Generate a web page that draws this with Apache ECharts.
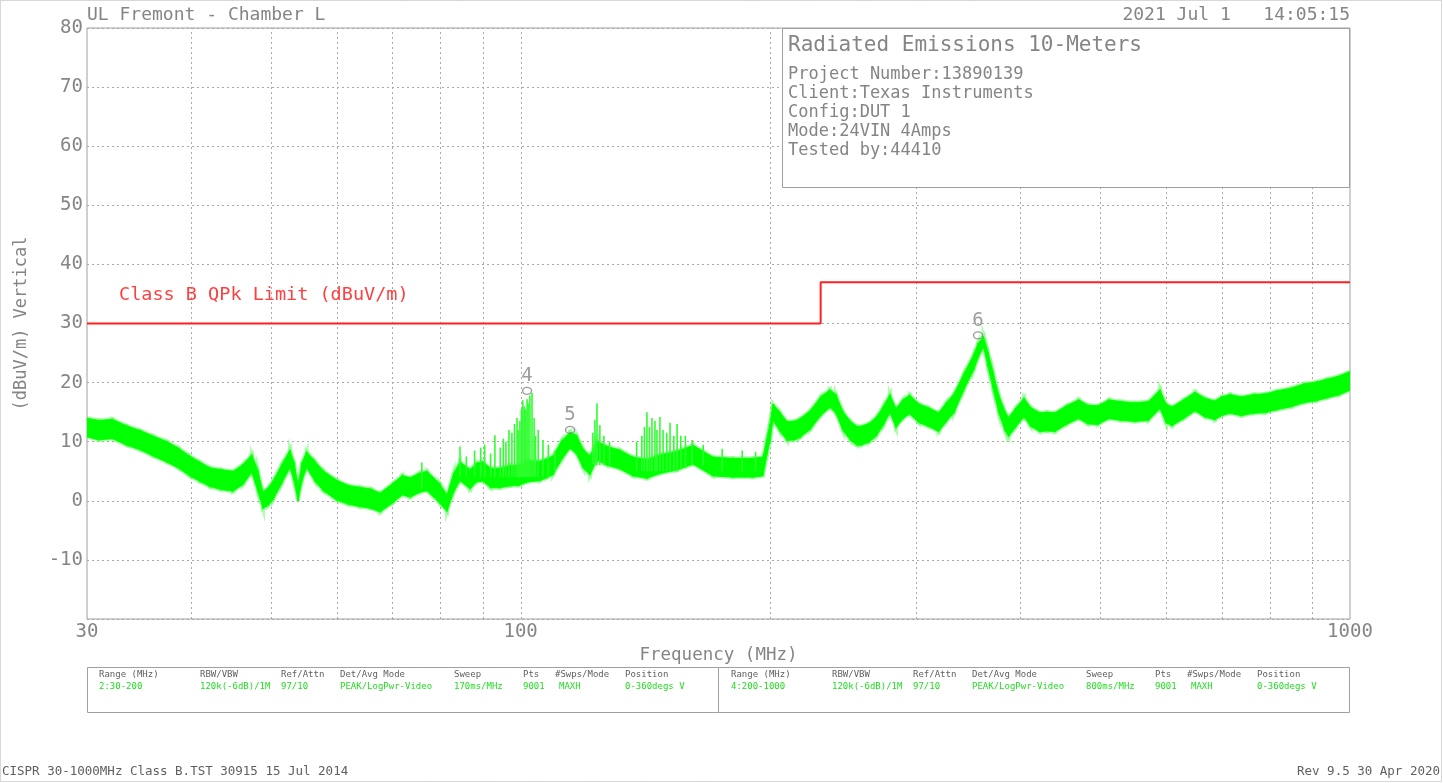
<!DOCTYPE html>
<html><head><meta charset="utf-8">
<script src="https://cdn.jsdelivr.net/npm/echarts@6/dist/echarts.min.js"></script>
<style>html,body{margin:0;padding:0;background:#fff}#c{width:1443px;height:783px}</style>
</head><body><div id="c"></div>
<script>
// ---- trace envelope (MHz, dBuV/m) ----
const freq = [
 30,31,32.2,33.5,34.8,36,37.5,38.7,39.9,41,
 42.2,43.5,45,46.3,47.4,48.2,48.9,49.6,50.3,51.5,
 52.7,53.3,53.9,54.5,55.2,56.5,57.8,60,62,64,
 66,67.7,70.2,72,73.6,75.5,77.1,79.9,81.5,83,
 84.5,86.9,88.5,90.1,92,94.4,97,99.5,102,105.5,
 107.5,109.4,112,114.7,116.8,118.9,121.2,123.6,127.1,131.7,
 136.6,142,147.2,154.4,161.4,170.6,180.3,190.6,195.9,198,
 199.8,201.5,205.4,209.5,214.1,217.2,223.6,230,236,240,
 244.7,250,254.4,257.2,263,268.6,274,278.8,283.5,289,
 294.4,302.2,310,319.2,326,333.1,342,351.9,356,361.5,
 366,371.2,377,383.7,387.6,395,404.5,412,422.8,431,
 440.8,455,470.9,483,496.7,512,529.4,550,571.5,590.1,
 600,610.2,630,650.5,668,687,700,716.8,740,765.3,
 790,816.4,850,880.2,910,938.1,970,1000];
const traceLow = [
 10.8,10.3,10.5,9.4,8.6,7.6,6.5,5.5,4.2,3.3,
 2.4,1.9,1.6,2.8,4.8,1.6,-1.3,-0.8,0.2,2.9,
 5.6,3.4,0.0,3.4,5.6,3.3,1.7,0.1,-0.6,-1.0,
 -1.3,-1.9,-0.3,1.0,0.6,1.4,1.7,-0.4,-1.8,1.4,
 3.4,2.0,3.2,3.3,2.2,2.2,2.5,2.6,3.2,3.4,
 3.9,4.4,6.9,8.9,7.9,5.6,4.4,6.9,6.0,5.4,
 4.2,3.8,4.6,5.2,6.2,4.2,4.0,4.0,4.2,7.6,
 10.0,13.6,11.8,10.2,10.3,10.7,12.1,14.4,15.8,14.8,
 11.9,10.2,9.4,9.4,9.9,11.0,12.9,14.9,12.4,13.9,
 14.7,13.2,12.6,11.7,13.4,14.9,18.6,22.2,24.2,26.0,
 22.7,19.0,15.0,11.9,10.9,12.4,14.2,12.6,11.7,11.8,
 11.7,12.9,13.9,13.0,12.9,13.9,13.6,13.4,13.6,15.6,
 13.2,12.7,13.9,15.2,14.2,13.7,14.4,14.8,14.4,14.8,
 14.9,15.4,15.9,16.6,16.9,17.4,17.9,18.7];
const traceHigh = [
 14.0,13.6,13.8,12.7,11.9,11.0,10.0,8.9,7.6,6.6,
 5.6,5.3,5.0,6.2,7.8,5.2,1.5,2.2,3.4,6.1,
 8.6,6.6,2.6,6.5,8.3,6.7,5.1,3.5,2.6,2.3,
 2.0,1.3,3.0,4.3,3.9,4.7,5.0,2.9,1.0,4.6,
 6.6,5.3,6.4,6.6,5.5,5.5,6.0,6.0,6.8,6.7,
 7.1,7.6,10.1,11.6,11.1,8.8,7.6,10.1,9.2,8.6,
 7.4,7.0,7.8,8.4,9.4,7.4,7.2,7.2,7.4,10.4,
 13.0,16.4,15.0,13.4,13.5,13.9,15.3,17.6,18.8,18.0,
 15.1,13.4,12.6,12.6,13.1,14.2,16.1,18.0,15.6,17.1,
 17.9,16.4,15.8,14.9,16.6,18.1,21.4,24.8,26.6,27.8,
 25.2,21.8,18.0,15.1,14.1,15.6,17.4,15.8,14.9,15.0,
 14.9,16.1,17.1,16.2,16.1,17.1,16.8,16.6,16.8,18.8,
 16.4,15.9,17.1,18.4,17.4,16.9,17.6,18.0,17.6,18.0,
 18.1,18.6,19.1,19.8,20.1,20.6,21.1,21.9];
// ---- narrow spikes ----
const spikeFreq = [76,84.5,86,88,89.5,90.5,92,93.1,94.5,95.3,96,96.8,97.6,98.3,99.0,99.3,99.8,100.2,100.6,101.0,101.4,101.8,102.1,102.6,103.2,103.8,104.2,105,106.4,108,110,
 122.2,122.9,123.6,124.6,126,128,138,140,141,142,143,144,145.2,146,147.2,148.5,150,151.4,153,154.4,156,158,161,166,175,185,192];
const spikeTop  = [6.5,9.2,7.5,8.5,9,9.5,8,11.1,9,10.5,10,12,11.5,13,14.0,12,13.5,15.5,17.0,16,15.5,17.2,16.5,17.8,18.3,14,11.0,12,10.3,9.5,8.5,
 11.5,13.7,16.5,12.8,11,10,10,11,12.5,15.0,12.5,14.0,13.5,12,14.2,12.0,11.5,13.2,11,13.0,11,11,10.3,9.5,8.8,8.5,8.3];
const spikeBase = [2,4,4,4,4,4,4,4,4,4,4,4,4,4,4,4,4,4,4,4,4,4,4,4,4,4,4,4,4,4,5,
 6,6,6,6,6,6,5,5,5,5,5,5,5,5,5,5,5,5,5,5,5.5,5.5,6,6,5,5,5];
// ---- limit ----
const limitFreq = [30,230,230,1000];
const limitVal  = [30,30,37,37];
const limitName = 'Class B QPk Limit (dBuV/m)';
// ---- markers ----
const markerFreq  = [101.8,114.7,356];
const markerVal   = [18.6,12.0,28.0];
const markerLabel = ['4','5','6'];
// ---- axes ----
const gridFreq = [40,50,60,70,80,90,100,200,300,400,500,600,700,800,900];
const xTickLabels = [30,100,1000];
const yMin = -20, yMax = 80, yStep = 10;
// ---- texts ----
const headerLeft = 'UL Fremont - Chamber L';
const headerRight = '2021 Jul 1   14:05:15';
const infoTitle = 'Radiated Emissions 10-Meters';
const infoLines = ['Project Number:13890139','Client:Texas Instruments','Config:DUT 1','Mode:24VIN 4Amps','Tested by:44410'];
const tableHeaders = ['Range (MHz)','RBW/VBW','Ref/Attn','Det/Avg Mode','Sweep','Pts','#Swps/Mode','Position'];
const tableLeft  = ['2:30-200','120k(-6dB)/1M','97/10','PEAK/LogPwr-Video','170ms/MHz','9001','MAXH','0-360degs V'];
const tableRight = ['4:200-1000','120k(-6dB)/1M','97/10','PEAK/LogPwr-Video','800ms/MHz','9001','MAXH','0-360degs V'];
const footerLeft = 'CISPR 30-1000MHz Class B.TST 30915 15 Jul 2014';
const footerRight = 'Rev 9.5 30 Apr 2020';

const MONO = "'DejaVu Sans Mono', 'Liberation Mono', monospace";
const GRAY = '#858585';
const GREEN = '#00ff00';

const chart = echarts.init(document.getElementById('c'), null, {renderer:'canvas'});

const bandData = [];
for (let i = 0; i < freq.length - 1; i++) {
  bandData.push([freq[i], traceLow[i], traceHigh[i], freq[i+1], traceLow[i+1], traceHigh[i+1]]);
}
const spikeData = spikeFreq.map((f, i) => [f, spikeBase[i], spikeTop[i]]);
const limitData = limitFreq.map((f, i) => [f, limitVal[i]]);
const markerData = markerFreq.map((f, i) => [f, markerVal[i], markerLabel[i]]);

const colOff = [0,101,182,241,355,424,456,526];
const graphics = [];
graphics.push({type:'rect', shape:{x:0.5,y:0.5,width:1441,height:781}, style:{fill:null, stroke:'#b0b0b0', lineWidth:1, lineDash:[1,1]}, z:0, silent:true});
graphics.push({type:'text', x:87, y:15, style:{text:headerLeft, font:'18px '+MONO, fill:GRAY, textVerticalAlign:'middle'}, z:20});
graphics.push({type:'text', x:1350, y:15, style:{text:headerRight, font:'18px '+MONO, fill:GRAY, textAlign:'right', textVerticalAlign:'middle'}, z:20});
graphics.push({type:'rect', shape:{x:782.5,y:28.5,width:567,height:159}, style:{fill:'#fff', stroke:'#a0a0a0', lineWidth:1}, z:10});
graphics.push({type:'text', x:788, y:46, style:{text:infoTitle, font:'21px '+MONO, fill:GRAY, textVerticalAlign:'middle'}, z:11});
infoLines.forEach((t, i) => graphics.push({type:'text', x:788, y:75 + i*18.8, style:{text:t, font:'17px '+MONO, fill:GRAY, textVerticalAlign:'middle'}, z:11}));
graphics.push({type:'text', x:119, y:295, style:{text:limitName, font:'18.5px '+MONO, fill:'#ff4040', textVerticalAlign:'middle'}, z:11});
graphics.push({type:'rect', shape:{x:87.5,y:667.5,width:1262,height:45}, style:{fill:'#fff', stroke:'#a0a0a0', lineWidth:1}, z:10});
graphics.push({type:'line', shape:{x1:718.5,y1:667.5,x2:718.5,y2:712.5}, style:{stroke:'#a0a0a0', lineWidth:1}, z:11});
[[99, tableLeft],[731, tableRight]].forEach(([x0, vals]) => {
  tableHeaders.forEach((h, i) => graphics.push({type:'text', x:x0+colOff[i], y:675, style:{text:h, font:'9px '+MONO, fill:'#606060', textVerticalAlign:'middle'}, z:11}));
  vals.forEach((v, i) => graphics.push({type:'text', x:x0+colOff[i]+(v==='MAXH'?4:0), y:687, style:{text:v, font:'9px '+MONO, fill:'#22dd22', textVerticalAlign:'middle'}, z:11}));
});
graphics.push({type:'text', x:2, y:772, style:{text:footerLeft, font:'12.5px '+MONO, fill:'#606060', textVerticalAlign:'middle'}, z:11});
graphics.push({type:'text', x:1440, y:772, style:{text:footerRight, font:'12.5px '+MONO, fill:'#606060', textAlign:'right', textVerticalAlign:'middle'}, z:11});

function bandItem(stroke, width, fill) {
  return (p, api) => {
    const a = api.coord([api.value(0), api.value(1)]), b = api.coord([api.value(0), api.value(2)]);
    const c = api.coord([api.value(3), api.value(5)]), d = api.coord([api.value(3), api.value(4)]);
    return {type:'polygon', shape:{points:[a,b,c,d]}, style:{fill:fill, stroke:stroke, lineWidth:width}};
  };
}

const option = {
  animation:false,
  backgroundColor:'#fff',
  grid:{left:87, right:93, top:28, bottom:164, show:true, borderColor:'#a0a0a0', borderWidth:1, backgroundColor:'transparent'},
  xAxis:{
    type:'log', logBase:10, min:30, max:1000,
    name:'Frequency (MHz)', nameLocation:'middle', nameGap:27,
    nameTextStyle:{fontFamily:MONO, fontSize:17.5, color:GRAY},
    axisLine:{show:false}, axisTick:{show:false}, splitLine:{show:false},
    axisLabel:{customValues:xTickLabels, fontFamily:MONO, fontSize:19, color:GRAY, margin:4, formatter:v=>String(Math.round(v))}
  },
  yAxis:{
    type:'value', min:yMin, max:yMax, interval:yStep,
    name:'(dBuV/m) Vertical', nameLocation:'middle', nameGap:57, nameRotate:90,
    nameTextStyle:{fontFamily:MONO, fontSize:17, color:GRAY},
    axisLine:{show:false}, axisTick:{show:false},
    axisLabel:{fontFamily:MONO, fontSize:19, color:GRAY, margin:4, formatter:v=> v===yMin ? '' : String(v)},
    splitLine:{show:true, lineStyle:{color:'#a8a8a8', type:[2,3], width:1}}
  },
  graphic:graphics,
  series:[
    {type:'custom', name:'vgrid', z:1, silent:true, data:gridFreq,
     renderItem:(p, api) => { const a = api.coord([api.value(0), yMin]); const b = api.coord([api.value(0), yMax]);
       return {type:'line', shape:{x1:Math.round(a[0])+0.5, y1:a[1], x2:Math.round(b[0])+0.5, y2:b[1]}, style:{stroke:'#a8a8a8', lineWidth:1, lineDash:[2,3]}}; },
     encode:{x:0}},
    {type:'custom', name:'traceFuzz', z:2, silent:true, data:bandData, clip:true,
     encode:{x:[0,3], y:[1,2,4,5]}, renderItem:bandItem('rgba(110,255,110,0.55)', 4, 'rgba(110,255,110,0.55)')},
    {type:'custom', name:'trace', z:3, silent:true, data:bandData, clip:true,
     encode:{x:[0,3], y:[1,2,4,5]}, renderItem:bandItem(GREEN, 0.8, GREEN)},
    {type:'custom', name:'spikes', z:3, silent:true, data:spikeData, clip:true,
     encode:{x:0, y:[1,2]},
     renderItem:(p, api) => {
       const a = api.coord([api.value(0), api.value(1)]), b = api.coord([api.value(0), api.value(2)]);
       return {type:'line', shape:{x1:a[0], y1:a[1], x2:b[0], y2:b[1]}, style:{stroke:'#2eff2e', lineWidth:1.6}};
     }},
    {type:'line', name:'limit', z:4, data:limitData, symbol:'none', silent:true,
     lineStyle:{color:'#ff2020', width:2}},
    {type:'scatter', name:'markers', z:5, data:markerData, symbol:'circle', symbolSize:[9,7], silent:true,
     itemStyle:{color:'rgba(255,255,255,0)', borderColor:GRAY, borderWidth:1.3},
     label:{show:true, position:'top', distance:1, formatter:p=>p.data[2], fontFamily:MONO, fontSize:19, color:GRAY}}
  ]
};
chart.setOption(option);
</script>
</body></html>
